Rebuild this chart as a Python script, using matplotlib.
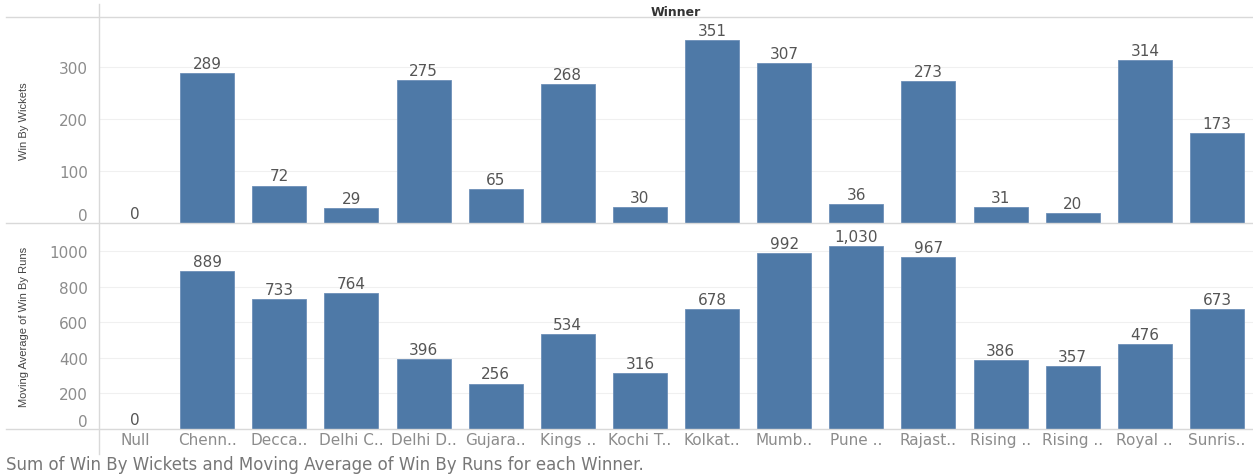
import matplotlib.pyplot as plt
from matplotlib.lines import Line2D

# Winner categories (truncated as in the chart)
winners = ['Null', 'Chenn..', 'Decca..', 'Delhi C..', 'Delhi D..', 'Gujara..',
           'Kings ..', 'Kochi T..', 'Kolkat..', 'Mumb..', 'Pune ..', 'Rajast..',
           'Rising ..', 'Rising ..', 'Royal ..', 'Sunris..']
win_by_wickets = [0, 289, 72, 29, 275, 65, 268, 30, 351, 307, 36, 273, 31, 20, 314, 173]
win_by_runs_ma = [0, 889, 733, 764, 396, 256, 534, 316, 678, 992, 1030, 967, 386, 357, 476, 673]
wicket_ticks = [0, 100, 200, 300]
runs_ticks = [0, 200, 400, 600, 800, 1000]

W, H = 1253, 477
bar_color = '#4e79a7'
tick_color = '#8c8c8c'
label_color = '#555555'
line_color = '#d9d9d9'

plt.rcParams['font.family'] = ['DejaVu Sans']

fig = plt.figure(figsize=(W / 100, H / 100), dpi=100)


def px_axes(x0, y_top, x1, y_bot):
    return fig.add_axes([x0 / W, 1 - y_bot / H, (x1 - x0) / W, (y_bot - y_top) / H])


ax_top = px_axes(99, 18, W, 224)
ax_bot = px_axes(99, 224, W, 430)

x = list(range(len(winners)))

panels = [
    (ax_top, win_by_wickets, wicket_ticks, 396, 'Win By Wickets'),
    (ax_bot, win_by_runs_ma, runs_ticks, 1160, 'Moving Average of Win By Runs'),
]

for ax, vals, ticks, ymax, title in panels:
    ax.bar(x, vals, width=0.75, color=bar_color, edgecolor='#6d8fb8', linewidth=0.6, zorder=3)
    ax.set_xlim(-0.5, len(winners) - 0.5)
    ax.set_ylim(0, ymax)
    ax.set_yticks(ticks)
    ax.set_yticklabels([f'{t}' for t in ticks])
    ax.yaxis.grid(True, color='#f0f0f0', linewidth=0.8, zorder=0)
    ax.tick_params(axis='y', length=0, colors=tick_color, labelsize=11, pad=8)
    ax.tick_params(axis='x', length=0)
    for s in ax.spines.values():
        s.set_visible(False)
    # zero label sits above the baseline
    ax.get_yticklabels()[0].set_va('bottom')
    for xi, v in zip(x, vals):
        ax.annotate(f'{v:,}', (xi, v), xytext=(0, 1.5), textcoords='offset points',
                    ha='center', va='bottom', fontsize=11, color=label_color)
    ax.set_ylabel(title, family=['Liberation Sans Narrow', 'Liberation Sans'],
                  fontsize=8, color='#444444')

ax_top.yaxis.set_label_coords(-70 / (W - 99), 0.5)
ax_bot.yaxis.set_label_coords(-70 / (W - 99), 0.5)

ax_top.set_xticks(x)
ax_top.set_xticklabels([])
ax_bot.set_xticks(x)
ax_bot.set_xticklabels(winners, fontsize=11, color=tick_color)
ax_bot.tick_params(axis='x', pad=2)

# frame lines in pixel coordinates
for (xa, xb, ya, yb) in [(6, W, 18, 18), (6, W, 224, 224), (6, W, 430, 430), (99, 99, 5, 455)]:
    fig.add_artist(Line2D([xa / W, xb / W], [1 - ya / H, 1 - yb / H],
                          color=line_color, linewidth=1, transform=fig.transFigure))

fig.text((99 + W) / 2 / W, 1 - 12 / H, 'Winner', ha='center', va='center',
         fontsize=9, fontweight='bold', color='#333333')
fig.text(6 / W, 1 - 465 / H, 'Sum of Win By Wickets and Moving Average of Win By Runs for each Winner.',
         ha='left', va='center', fontsize=12, color='#777777')

plt.savefig('out.png', dpi=100)
